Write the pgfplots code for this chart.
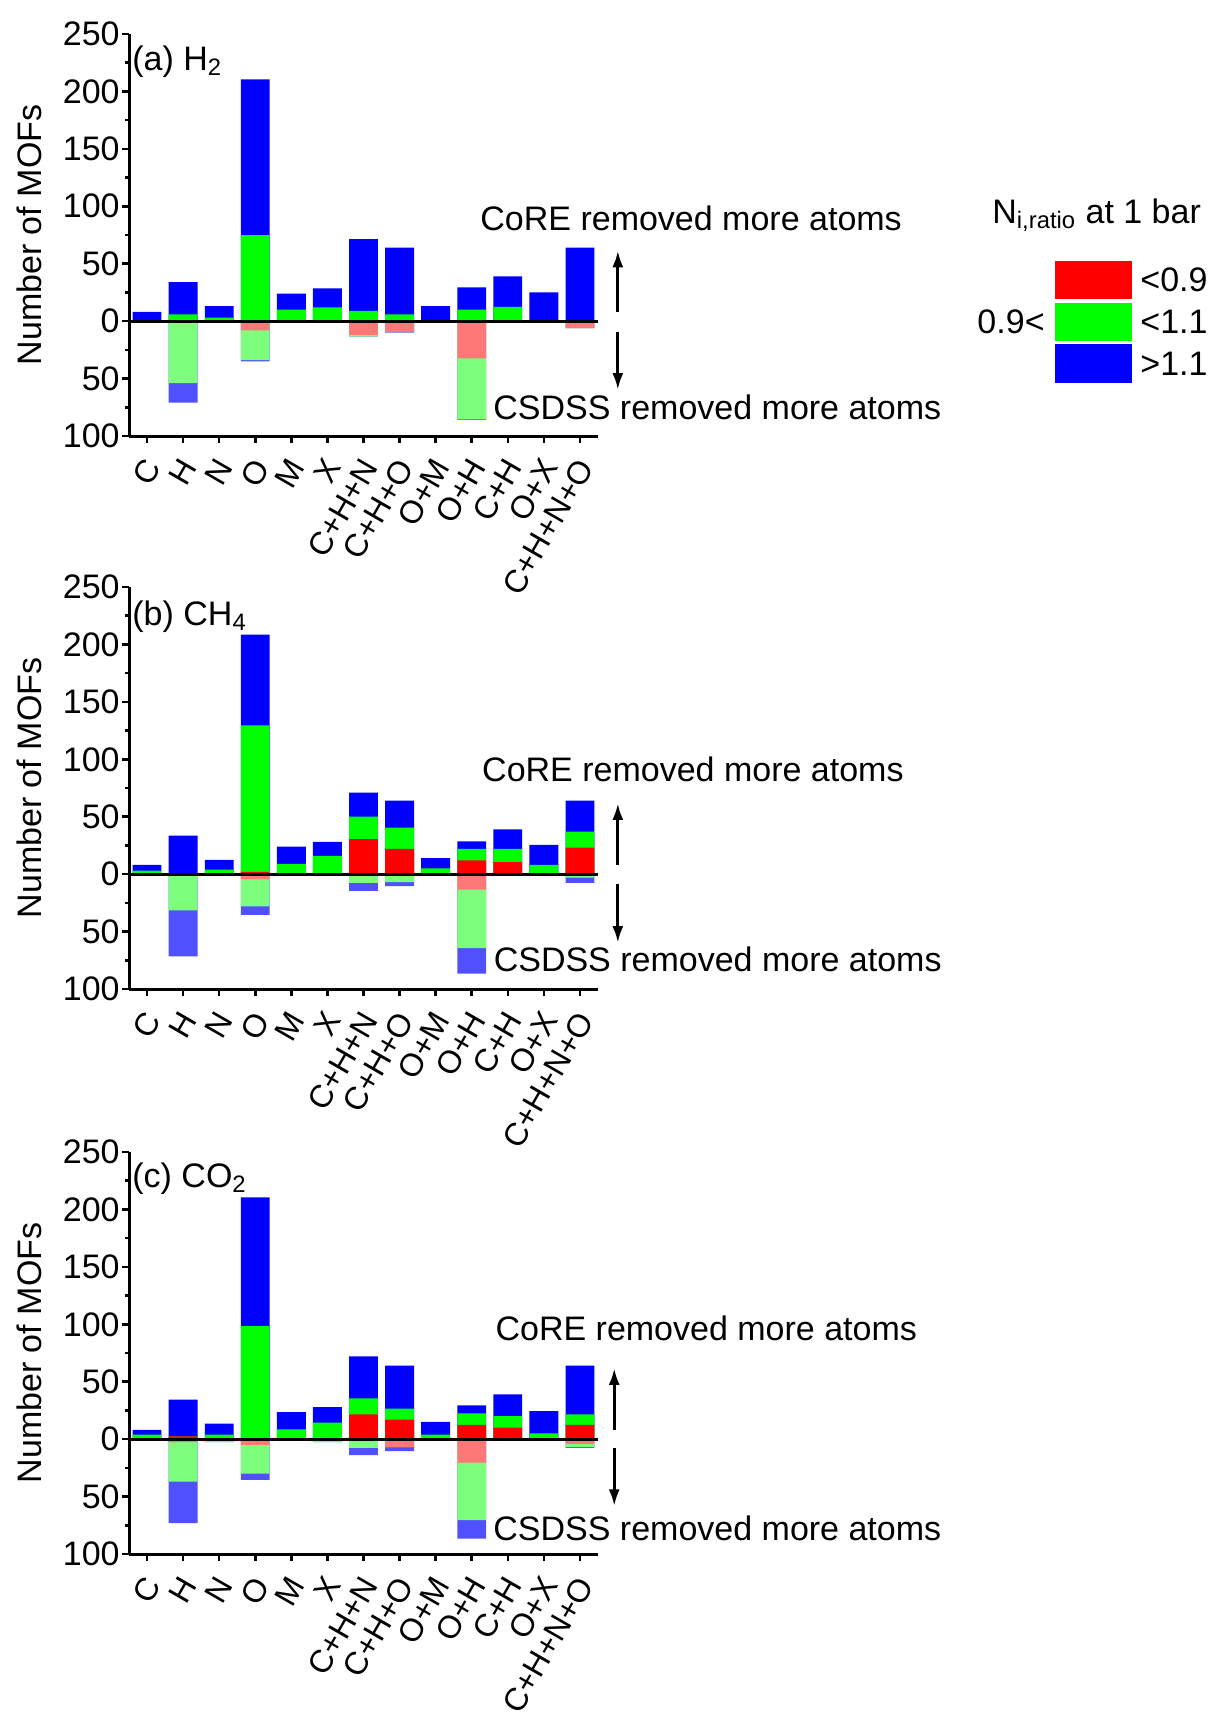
\documentclass[border=0pt]{standalone}
\usepackage{pgfplots}
\pgfplotsset{compat=1.18}
\usepackage{pgfplotstable}
\usepackage{fontspec}
\setmainfont{Liberation Sans}
\usetikzlibrary{arrows.meta}

\definecolor{cR}{RGB}{255,0,0}
\definecolor{cG}{RGB}{0,255,0}
\definecolor{cB}{RGB}{0,0,255}
\definecolor{lR}{RGB}{255,120,120}
\definecolor{lG}{RGB}{125,255,125}
\definecolor{lB}{RGB}{80,80,255}
\newcommand\fs{\fontsize{17}{20}\selectfont}
\newcommand\fx{\fontsize{16}{19}\selectfont}
\tikzset{arr/.style={line width=1.6pt, -{Latex[length=8.5pt,width=5.5pt]}}}

% cumulative tops: positive (red, red+green, total) and negative (red, red+green, total)
\pgfplotstableread{
x pR pG pB nR nG nB
0 0 0 8 0 0 0
1 0 6 34 0 -54 -71
2 0 3 13 0 0 0
3 0 75 210.5 -8 -34 -35
4 0 10 24 0 0 0
5 0 12 28.5 0 -1 -1
6 0 9 71.5 -12 -13.5 -13.5
7 0 6 64 -9.5 -9.5 -10
8 0 0 13 0 0 0
9 0 10 29.5 -32.5 -85.5 -86
10 0 12.5 39 0 0 0
11 0 0 25 0 0 0
12 0 0 64 -6 -6 -6
}\tableA
\pgfplotstableread{
x pR pG pB nR nG nB
0 0 3 8 0 0 0
1 1 1 33.5 0 -31.5 -71.5
2 0 4 12.5 0 0 -1
3 2 129.5 208.5 -4.5 -28 -35.5
4 0 9 24 0 0 0
5 0 16 28 0 -1 -1
6 30.5 50 71 0 -7.5 -14.5
7 22 40.5 64 -1 -7 -10.5
8 0 5 14 0 0 0
9 12 22 28.5 -13.5 -64.5 -86.5
10 10.5 22 39 0 0 0
11 0 8 25.5 0 0 0
12 23 37 64 -1 -3 -7.5
}\tableB
\pgfplotstableread{
x pR pG pB nR nG nB
0 0 4 8 0 0 0
1 2.5 2.5 34.5 -2.5 -37 -73
2 0 4 13.5 0 -2.5 -2.5
3 0 98.5 210.5 -5 -30 -35.5
4 0 8.5 23.5 0 0 0
5 0 14.5 28 0 -2.5 -2.5
6 21.5 35.5 72 0 -7.5 -14
7 17 26.5 64 -7 -7 -10.5
8 0 4 15 0 0 0
9 12.5 22.5 29.5 -20.5 -70.5 -86.5
10 10 20 39 0 0 0
11 0 5 24.5 0 0 0
12 12.5 21.5 64 -4 -7 -7.5
}\tableC

\pgfplotsset{
  mybar/.style={ybar, bar width=0.8, bar shift=0pt, draw=none, fill=#1},
  panel/.style={
    scale only axis, width=234.5pt, height=201pt,
    xmin=-0.5, xmax=12.5, ymin=-100, ymax=250,
    axis x line=bottom, axis y line=left,
    axis line style={line width=1.5pt, -},
    xtick={0,...,12},
    xticklabels={C,H,N,O,M,X,C+H+N,C+H+O,O+M,O+H,C+H,O+X,C+H+N+O},
    ytick={-100,-50,0,50,100,150,200,250},
    yticklabels={100,50,0,50,100,150,200,250},
    minor ytick={-75,-25,25,75,125,175,225},
    tick align=outside,
    major tick length=3.5pt, minor tick length=2pt,
    every tick/.style={black, line width=1.3pt},
    /pgf/number format/assume math mode=true,
    yticklabel style={font=\fs, inner sep=1pt},
    xticklabel style={font=\fx, xshift=-2.5pt, yshift=-5pt, rotate=60, anchor=north east, inner sep=1pt},
    ylabel={Number of MOFs},
    every axis y label/.style={at={(axis description cs:0,0.5)}, xshift=-50pt, rotate=90, anchor=center, font=\fs},
    clip=false,
  },
}

\newcommand\bars[1]{%
  \addplot[mybar=cB] table[x=x,y=pB]{#1};
  \addplot[mybar=cG] table[x=x,y=pG]{#1};
  \addplot[mybar=cR] table[x=x,y=pR]{#1};
  \addplot[mybar=lB] table[x=x,y=nB]{#1};
  \addplot[mybar=lG] table[x=x,y=nG]{#1};
  \addplot[mybar=lR] table[x=x,y=nR]{#1};
  \addplot[sharp plot, black, line width=1.5pt, forget plot] coordinates {(-0.5,0) (12.5,0)};
}

\begin{document}
\begin{tikzpicture}
\path[use as bounding box] (0,0) rectangle (604.5pt,-859.5pt);

% (a)
\begin{axis}[panel, at={(64.5pt,-17pt)}, anchor=north west]
\bars{\tableA}
\node[anchor=north west, inner sep=0pt, font=\fs] at (rel axis cs:0,1) [xshift=1.5pt, yshift=-5.5pt] {(a) H\textsubscript{2}};
\node[anchor=base west, inner sep=0pt, font=\fs] at (axis cs:9.23,79) {CoRE removed more atoms};
\node[anchor=base west, inner sep=0pt, font=\fs] at (axis cs:9.59,-86) {CSDSS removed more atoms};
\draw[arr] (axis cs:13.05,7.8) -- (axis cs:13.05,61.7);
\draw[arr] (axis cs:13.05,-9.6) -- (axis cs:13.05,-60);
\end{axis}

% (b)
\begin{axis}[panel, at={(64.5pt,-293.5pt)}, anchor=north west]
\bars{\tableB}
\node[anchor=north west, inner sep=0pt, font=\fs] at (rel axis cs:0,1) [xshift=1.5pt, yshift=-6.5pt] {(b) CH\textsubscript{4}};
\node[anchor=base west, inner sep=0pt, font=\fs] at (axis cs:9.28,81) {CoRE removed more atoms};
\node[anchor=base west, inner sep=0pt, font=\fs] at (axis cs:9.60,-85) {CSDSS removed more atoms};
\draw[arr] (axis cs:13.05,8) -- (axis cs:13.05,62);
\draw[arr] (axis cs:13.05,-8.4) -- (axis cs:13.05,-60);
\end{axis}

% (c)
\begin{axis}[panel, at={(64.5pt,-576pt)}, anchor=north west]
\bars{\tableC}
\node[anchor=north west, inner sep=0pt, font=\fs] at (rel axis cs:0,1) [xshift=1.5pt, yshift=-5pt] {(c) CO\textsubscript{2}};
\node[anchor=base west, inner sep=0pt, font=\fs] at (axis cs:9.65,86) {CoRE removed more atoms};
\node[anchor=base west, inner sep=0pt, font=\fs] at (axis cs:9.59,-88) {CSDSS removed more atoms};
\draw[arr] (axis cs:12.95,8.4) -- (axis cs:12.95,62);
\draw[arr] (axis cs:12.95,-8) -- (axis cs:12.95,-58.5);
\end{axis}

% legend
\node[anchor=base west, inner sep=0pt, font=\fs] at (496pt,-111.5pt) {N\textsubscript{i,ratio} at 1 bar};
\fill[cR] (527.5pt,-130.5pt) rectangle (566pt,-149.5pt);
\fill[cG] (527.5pt,-151.5pt) rectangle (566pt,-170.5pt);
\fill[cB] (527.5pt,-172pt) rectangle (566pt,-191.5pt);
\node[anchor=west, inner sep=0pt, font=\fs] at (570pt,-140pt) {<0.9};
\node[anchor=west, inner sep=0pt, font=\fs] at (570pt,-161pt) {<1.1};
\node[anchor=west, inner sep=0pt, font=\fs] at (570pt,-181.75pt) {>1.1};
\node[anchor=east, inner sep=0pt, font=\fs] at (522.5pt,-161pt) {0.9<};
\end{tikzpicture}
\end{document}
